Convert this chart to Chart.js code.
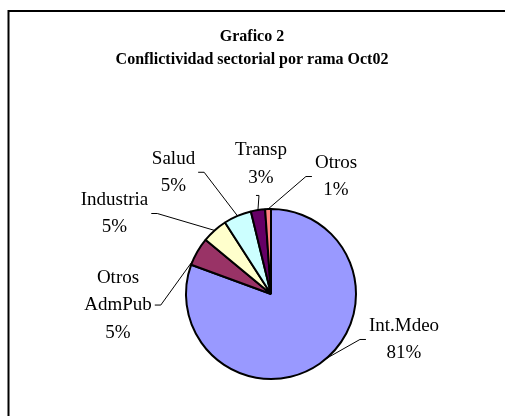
<!DOCTYPE html>
<html><head><meta charset="utf-8">
<script src="https://cdn.jsdelivr.net/npm/chart.js@4/dist/chart.umd.min.js"></script>
<style>html,body{margin:0;padding:0;background:#fff;overflow:hidden}</style>
</head><body>
<canvas id="c" width="505" height="416"></canvas>
<script>
// ---- data ----
const categories = ['Int.Mdeo', 'Otros AdmPub', 'Industria', 'Salud', 'Transp', 'Otros'];
const values = [80.6, 5.4, 4.9, 5.3, 2.7, 1.1];
const percentLabels = ['81%', '5%', '5%', '5%', '3%', '1%'];
const labelNameLines = [['Int.Mdeo'], ['Otros', 'AdmPub'], ['Industria'], ['Salud'], ['Transp'], ['Otros']];
const titleLines = ['Grafico 2', 'Conflictividad sectorial por rama Oct02'];

// ---- styles / layout ----
const colors = ['#9999FF', '#993366', '#FFFFCC', '#CCFFFF', '#660066', '#FF8080'];
const FONT = '"Liberation Serif", "Times New Roman", serif';
const LABEL_SIZE = 19, LINE_H = 27.5, TITLE_SIZE = 16;
// label block centre relative to pie centre, in units of the radius; side where leader attaches
const labelLayout = [
  {dx: 1.565, dy: 0.535, side: 'left', frac: 0.48},
  {dx: -1.80, dy: 0.13, side: 'right', frac: 0.15},
  {dx: -1.841, dy: -0.947, side: 'right', frac: 0.5},
  {dx: -1.147, dy: -1.432, side: 'right', frac: 0.5},
  {dx: -0.118, dy: -1.53, side: 'bottom', frac: 0.5},
  {dx: 0.765, dy: -1.382, side: 'left', frac: 0.5}
];

const framePlugin = {
  id: 'frame',
  beforeDraw(chart) {
    const ctx = chart.ctx;
    ctx.save();
    ctx.fillStyle = '#fff';
    ctx.fillRect(0, 0, chart.width, chart.height);
    ctx.strokeStyle = '#000';
    ctx.lineWidth = 2;
    ctx.strokeRect(8.5, 11, 700, 700);
    // title
    ctx.fillStyle = '#000';
    ctx.textAlign = 'center';
    ctx.textBaseline = 'middle';
    ctx.font = 'bold ' + TITLE_SIZE + 'px ' + FONT;
    ctx.fillText(titleLines[0], 252, 37);
    ctx.fillText(titleLines[1], 252, 60);
    ctx.restore();
  }
};

const labelPlugin = {
  id: 'pieLabels',
  afterDraw(chart) {
    const ctx = chart.ctx;
    const meta = chart.getDatasetMeta(0);
    ctx.save();
    ctx.font = LABEL_SIZE + 'px ' + FONT;
    ctx.fillStyle = '#000';
    ctx.strokeStyle = '#000';
    ctx.lineWidth = 1;
    ctx.textAlign = 'center';
    ctx.textBaseline = 'middle';
    meta.data.forEach((arc, i) => {
      const p = arc.getProps(['x', 'y', 'startAngle', 'endAngle', 'outerRadius'], true);
      const lay = labelLayout[i];
      const r = p.outerRadius;
      const cx = p.x + lay.dx * r, cy = p.y + lay.dy * r;
      const lines = labelNameLines[i].concat([percentLabels[i]]);
      const n = lines.length;
      let w = 0;
      lines.forEach((t, k) => {
        w = Math.max(w, ctx.measureText(t).width);
        ctx.fillText(t, cx, cy + (k - (n - 1) / 2) * LINE_H);
      });
      const a = p.startAngle + (p.endAngle - p.startAngle) * lay.frac;
      const sx = p.x + Math.cos(a) * r, sy = p.y + Math.sin(a) * r;
      ctx.beginPath();
      ctx.moveTo(sx, sy);
      if (lay.side === 'left') {
        const L = cx - w / 2;
        ctx.lineTo(L - 9, cy);
        ctx.lineTo(L - 3, cy);
      } else if (lay.side === 'right') {
        const R = cx + w / 2;
        ctx.lineTo(R + 9, cy);
        ctx.lineTo(R + 3, cy);
      } else {
        const B = cy + n * LINE_H / 2;
        ctx.lineTo(cx - 2, B + 4);
        ctx.lineTo(cx - 5, B + 4);
      }
      ctx.stroke();
    });
    ctx.restore();
  }
};

new Chart(document.getElementById('c'), {
  type: 'pie',
  data: {
    labels: categories,
    datasets: [{
      data: values,
      backgroundColor: colors,
      borderColor: '#000',
      borderWidth: 2,
      hoverOffset: 0,
      offset: 0
    }]
  },
  options: {
    responsive: false,
    animation: false,
    events: [],
    radius: 85,
    layout: {padding: {left: 171, right: 134, top: 194, bottom: 22}},
    plugins: {legend: {display: false}, title: {display: false}, tooltip: {enabled: false}}
  },
  plugins: [framePlugin, labelPlugin]
});
</script>
</body></html>
